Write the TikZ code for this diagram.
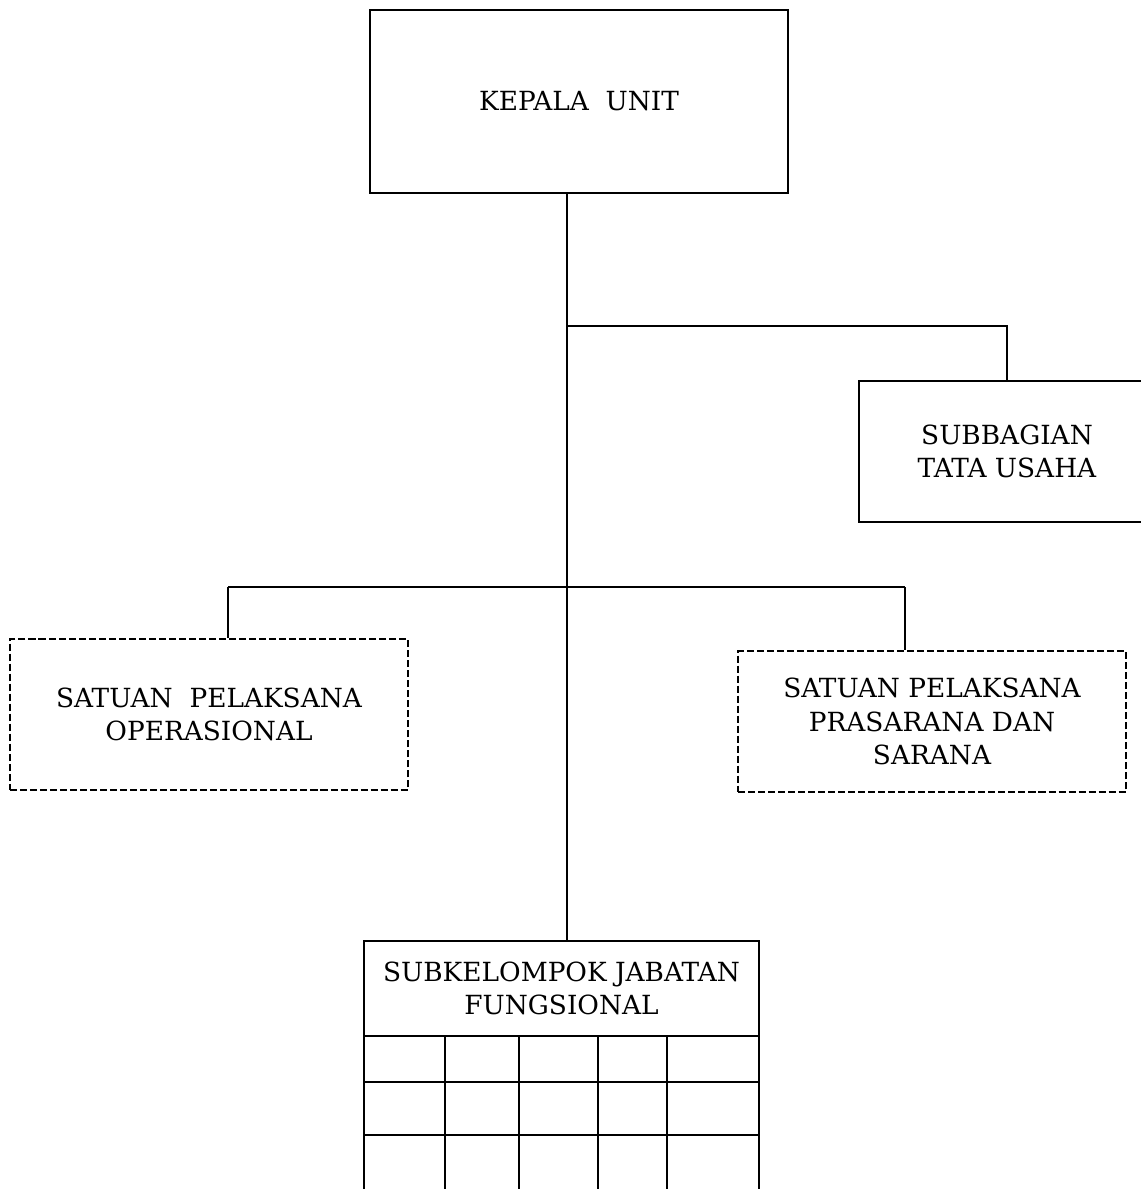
\documentclass[tikz,border=0pt]{standalone}
\usepackage{fontspec}
\setmainfont{DejaVu Serif}

\begin{document}
\begin{tikzpicture}[
    x=0.02cm, y=-0.02cm,
    box/.style={rectangle, draw, line width=1.1pt, align=center, inner sep=0pt,
                font=\fontsize{15}{19}\selectfont},
    dashbox/.style={box, dash pattern=on 4pt off 1.7pt},
    line/.style={line width=1.1pt}
]
\useasboundingbox (0,0) rectangle (1140,1189);

% Head
\node[box, minimum width=8.36cm, minimum height=3.66cm] (kepala) at (579,101.5) {KEPALA\ \ UNIT};

% Staff
\node[box, minimum width=5.92cm, minimum height=2.82cm] (subbag) at (1007,451.5) {SUBBAGIAN\\TATA USAHA};

% Executing units
\node[dashbox, minimum width=7.96cm, minimum height=3.02cm] (spo) at (209,714.5) {SATUAN\ \ PELAKSANA\\OPERASIONAL};
\node[dashbox, minimum width=7.76cm, minimum height=2.82cm] (spps) at (932,721.5) {SATUAN PELAKSANA\\PRASARANA DAN\\SARANA};

% Functional group
\node[box, minimum width=7.9cm, minimum height=1.9cm] (jabfung) at (561.5,988.5) {SUBKELOMPOK JABATAN\\FUNGSIONAL};

% Grid under the functional group
\foreach \gx in {364,445,519,598,667,759}
    \draw[line] (jabfung.south west -| \gx,0) -- (\gx,1200);
\foreach \gy in {1082,1135}
    \draw[line] (jabfung.south west |- 0,\gy) -- (jabfung.south east |- 0,\gy);

% Connectors
\coordinate (t1) at (567,326);
\coordinate (t2) at (567,587);
\coordinate (b1) at (228,587);
\coordinate (b2) at (905,587);

\draw[line] (kepala.south -| t1) -- (jabfung.north -| t1);
\draw[line] (t1) -| (subbag.north);
\draw[line] (b1) -- (b2);
\draw[line] (b1) -- (spo.north -| b1);
\draw[line] (b2) -- (spps.north -| b2);

\end{tikzpicture}
\end{document}
